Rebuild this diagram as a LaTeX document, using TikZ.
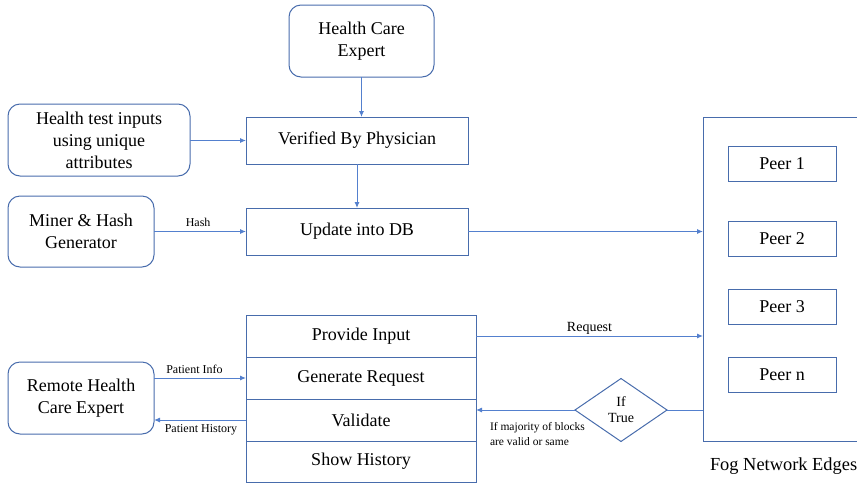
\documentclass[tikz,border=0pt]{standalone}
\usepackage{fontspec}
\setmainfont{LiberationSerif}[Extension=.ttf,UprightFont=*-Regular,BoldFont=*-Bold,ItalicFont=*-Italic,BoldItalicFont=*-BoldItalic]
\usetikzlibrary{shapes.geometric,arrows.meta,positioning}
\definecolor{boxblue}{RGB}{72,108,172}
\definecolor{arrblue}{RGB}{84,128,206}
\begin{document}
\begin{tikzpicture}[x=1pt,y=-1pt,
  every node/.style={inner sep=0pt,outer sep=0pt},
  rbox/.style={draw=boxblue,line width=1pt,rounded corners=12pt,align=center,font=\fontsize{18}{22}\selectfont},
  sbox/.style={draw=boxblue,line width=1pt,align=center,font=\fontsize{18}{22}\selectfont},
  peer/.style={draw=boxblue,line width=1pt,minimum width=108pt,minimum height=35pt,font=\fontsize{18}{22}\selectfont},
  conn/.style={draw=arrblue,line width=1pt,-{Latex[length=6pt,width=5pt]}},
  plain/.style={draw=arrblue,line width=1pt},
  small/.style={font=\fontsize{12}{14}\selectfont,align=left},
  mid/.style={font=\fontsize{14}{16}\selectfont,align=center}]
\useasboundingbox (0,0) rectangle (857,483);
% top part
\node[rbox,minimum width=145pt,minimum height=72pt] (hce) at (361.5,41) {Health Care\\Expert};
\node[rbox,minimum width=182pt,minimum height=72pt] (hti) at (99,140) {Health test inputs\\using unique\\attributes};
\node[sbox,minimum width=222pt,minimum height=47pt] (vbp) at (357,140.5) {Verified By Physician};
\node[rbox,minimum width=146pt,minimum height=71pt] (mhg) at (81,231.5) {Miner \& Hash\\Generator};
\node[sbox,minimum width=222pt,minimum height=47pt] (udb) at (357,231.5) {Update into DB};
% fog network
\node[draw=boxblue,line width=1pt,minimum width=170pt,minimum height=324pt,anchor=north west] (fog) at (703,117) {};
\node[peer] (p1) at (782,163.5) {Peer 1};
\node[peer] (p2) at (782,238.5) {Peer 2};
\node[peer] (p3) at (782,306.5) {Peer 3};
\node[peer] (pn) at (782,374.5) {Peer n};
\node[font=\fontsize{18.4}{22}\selectfont,anchor=west] (fogl) at (710,466) {Fog Network Edges};
% bottom stack
\node[sbox,minimum width=230pt,minimum height=42pt] (pi) at (361,336) {Provide Input};
\node[sbox,minimum width=230pt,minimum height=42pt] (gr) at (361,378) {Generate Request};
\node[sbox,minimum width=230pt,minimum height=42pt] (va) at (361,420) {Validate};
\node[sbox,minimum width=230pt,minimum height=41pt] (sh) at (361,461.5) {Show History};
\node[rbox,minimum width=146pt,minimum height=72pt] (rhc) at (81,398) {Remote Health\\Care Expert};
\node[diamond,draw=boxblue,line width=1pt,minimum width=92pt,minimum height=63pt,aspect=1.46,mid] (dia) at (621,410) {If\\True};
% connectors
\draw[conn] (hce.south) -- (hce.south |- vbp.north);
\draw[conn] (hti.east |- vbp.west) -- (vbp.west);
\draw[conn] (vbp.south) -- (udb.north);
\draw[conn] (mhg.east |- udb.west) -- node[small,above=5pt,pos=0.48] (hashl) {Hash} (udb.west);
\draw[conn] (udb.east) -- (udb.east -| fog.west);
\draw[conn] (pi.east) -- node[mid,above=2pt] (reql) {Request} (pi.east -| fog.west);
\draw[conn] (rhc.east |- gr.west) -- node[small,above=4pt,pos=0.44] (pinfo) {Patient Info} (gr.west);
\draw[conn] (va.west) -- node[small,below=5pt,pos=0.49] (phist) {Patient History} (va.west -| rhc.east);
\draw[plain] (dia.east -| fog.west) -- (dia.east);
\draw[conn] (dia.west) -- (dia.west -| va.east);
\node[small,anchor=north west,font=\fontsize{11.5}{15}\selectfont] (maj) at (490,422) {If majority of blocks\\are valid or same};
\end{tikzpicture}
\end{document}
